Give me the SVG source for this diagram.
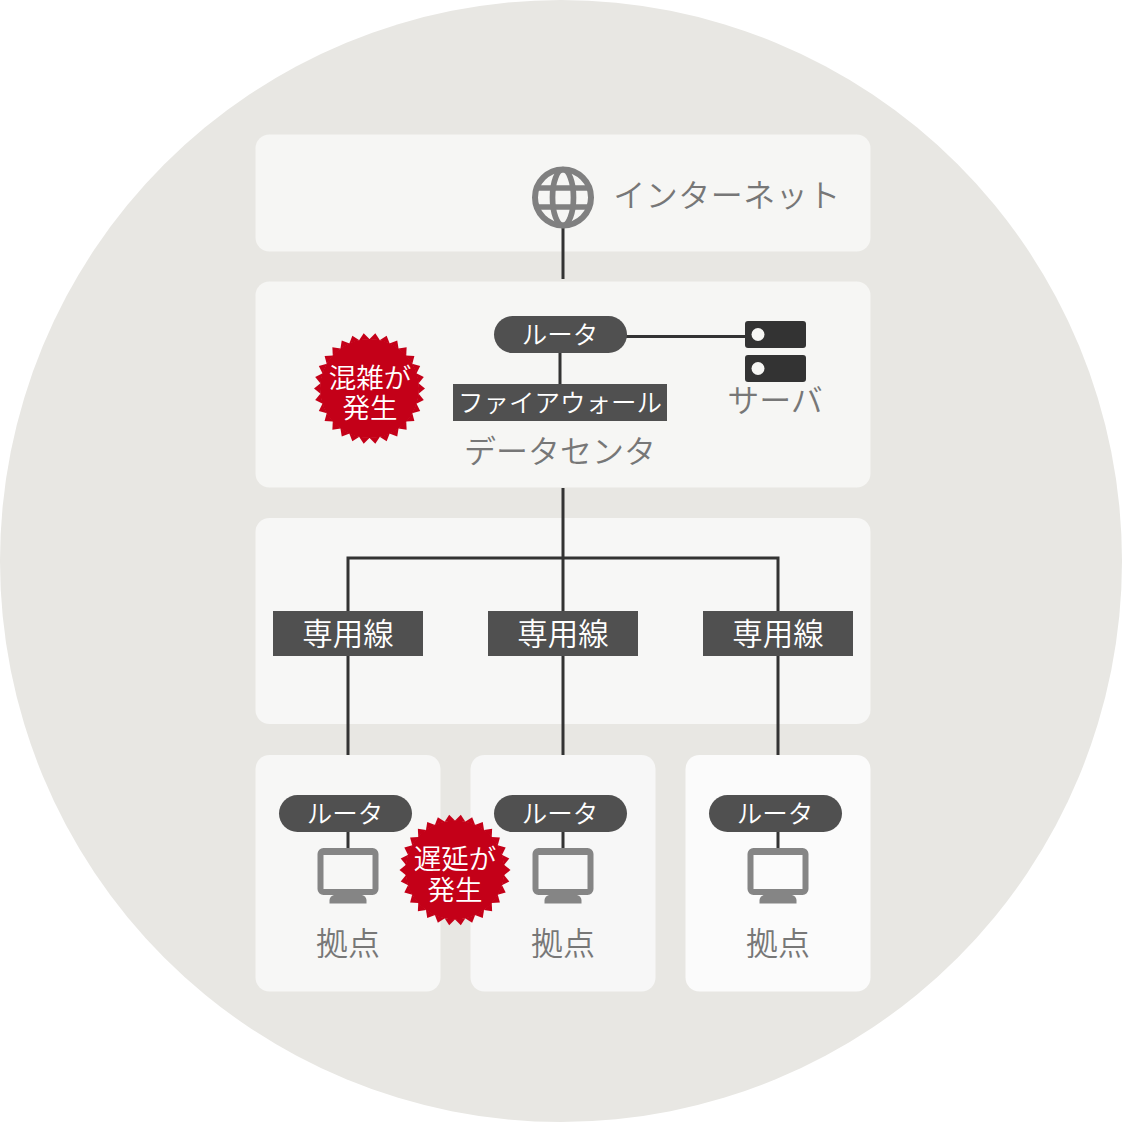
<svg xmlns="http://www.w3.org/2000/svg" width="1122" height="1122" viewBox="0 0 1122 1122">
<style>
text{font-family:"Noto Sans CJK JP","Noto Sans",sans-serif;text-anchor:middle;font-weight:350}
.g{fill:#777;font-size:32px}
.w{fill:#fff;font-size:30.500px}
.b{fill:#fff;font-size:25.500px}
.h{fill:#fff;font-size:27.500px}
.dk{fill:#505050}
.ln{fill:none;stroke:#333;stroke-width:3}
.mon{fill:#858585}
</style>
<defs>
<polygon id="t" points="-5.300,-49 0,-55.500 5.300,-49"/>
<g id="burst" fill="#c40018">
<circle r="49.500"/>
<use href="#t" transform="rotate(6)"/><use href="#t" transform="rotate(18)"/><use href="#t" transform="rotate(30)"/><use href="#t" transform="rotate(42)"/><use href="#t" transform="rotate(54)"/><use href="#t" transform="rotate(66)"/><use href="#t" transform="rotate(78)"/><use href="#t" transform="rotate(90)"/><use href="#t" transform="rotate(102)"/><use href="#t" transform="rotate(114)"/><use href="#t" transform="rotate(126)"/><use href="#t" transform="rotate(138)"/><use href="#t" transform="rotate(150)"/><use href="#t" transform="rotate(162)"/><use href="#t" transform="rotate(174)"/><use href="#t" transform="rotate(186)"/><use href="#t" transform="rotate(198)"/><use href="#t" transform="rotate(210)"/><use href="#t" transform="rotate(222)"/><use href="#t" transform="rotate(234)"/><use href="#t" transform="rotate(246)"/><use href="#t" transform="rotate(258)"/><use href="#t" transform="rotate(270)"/><use href="#t" transform="rotate(282)"/><use href="#t" transform="rotate(294)"/><use href="#t" transform="rotate(306)"/><use href="#t" transform="rotate(318)"/><use href="#t" transform="rotate(330)"/><use href="#t" transform="rotate(342)"/><use href="#t" transform="rotate(354)"/>
</g>
<g id="monitor">
<path class="mon" fill-rule="evenodd" d="M-24.500,-24h49a6,6 0 0 1 6,6v35a6,6 0 0 1-6,6h-49a6,6 0 0 1-6-6v-35a6,6 0 0 1 6-6zM-24.500,-17v34h49v-34z"/>
<path class="mon" d="M-14,23H14Q18,24 18.500,28V31.500H-18.500V28Q-18,24 -14,23z"/>
</g>
</defs>
<circle id="bg" cx="561" cy="561" r="561" fill="#e8e7e3"/>
<g id="panels">
<rect x="255.500" y="134.500" width="615" height="117" rx="14" fill="#f6f6f4"/>
<rect x="255.500" y="281.500" width="615" height="206" rx="14" fill="#f6f6f4"/>
<rect x="255.500" y="518" width="615" height="206" rx="14" fill="#f7f7f6"/>
<rect x="255.500" y="755" width="185" height="236.500" rx="14" fill="#f7f7f6"/>
<rect x="470.500" y="755" width="185" height="236.500" rx="14" fill="#f7f7f7"/>
<rect x="685.500" y="755" width="185" height="236.500" rx="14" fill="#fbfbfb"/>
</g>
<g id="connectors">
<path class="ln" d="M563,225V279"/>
<path class="ln" d="M620,336.500H750"/>
<path class="ln" d="M560,350V385"/>
<path class="ln" d="M563,488V558M348,755V558H778V755M563,558V755"/>
<path class="ln" d="M348,830V850M563,830V850M778,830V850"/>
</g>
<g id="internet">
<circle cx="563" cy="197.500" r="28" fill="none" stroke="#808080" stroke-width="6"/>
<ellipse cx="563" cy="197.500" rx="10.500" ry="28" fill="none" stroke="#808080" stroke-width="5.700"/>
<path d="M538,188H588M538,207H588" fill="none" stroke="#808080" stroke-width="5.700"/>
<text class="g" x="727" y="207" letter-spacing="0.500">インターネット</text>
</g>
<g id="dc-router">
<rect class="dk" x="494" y="316" width="133" height="37" rx="18.500"/>
<text class="b" x="560" y="344">ルータ</text>
</g>
<g id="firewall">
<rect class="dk" x="453" y="384" width="214" height="37"/>
<text class="b" x="560" y="412">ファイアウォール</text>
</g>
<g id="server">
<rect x="745" y="321" width="61" height="27" rx="3" fill="#333"/>
<rect x="745" y="355" width="61" height="27" rx="3" fill="#333"/>
<circle cx="758" cy="334.500" r="6.500" fill="#f6f6f4"/>
<circle cx="758" cy="368.500" r="6.500" fill="#f6f6f4"/>
<text class="g" x="775" y="412">サーバ</text>
</g>
<text id="dc-label" class="g" x="560" y="463" >データセンタ</text>
<g id="burst1">
<use href="#burst" x="369.500" y="388.500"/>
<text class="h" x="370" y="388">混雑が</text>
<text class="h" x="370" y="418">発生</text>
</g>
<g id="line1"><rect class="dk" x="273" y="611" width="150" height="45"/><text class="w" x="348" y="645">専用線</text></g>
<g id="line2"><rect class="dk" x="488" y="611" width="150" height="45"/><text class="w" x="563" y="645">専用線</text></g>
<g id="line3"><rect class="dk" x="703" y="611" width="150" height="45"/><text class="w" x="778" y="645">専用線</text></g>
<g id="site1">
<rect class="dk" x="279" y="795" width="133" height="37" rx="18.500"/>
<text class="b" x="345" y="823">ルータ</text>
<use href="#monitor" x="348" y="872"/>
<text class="g" x="348" y="955">拠点</text>
</g>
<g id="site2">
<rect class="dk" x="494" y="795" width="133" height="37" rx="18.500"/>
<text class="b" x="560" y="823">ルータ</text>
<use href="#monitor" x="563" y="872"/>
<text class="g" x="563" y="955">拠点</text>
</g>
<g id="site3">
<rect class="dk" x="709" y="795" width="133" height="37" rx="18.500"/>
<text class="b" x="775" y="823">ルータ</text>
<use href="#monitor" x="778" y="872"/>
<text class="g" x="778" y="955">拠点</text>
</g>
<g id="burst2">
<use href="#burst" x="455" y="870"/>
<text class="h" x="455" y="869">遅延が</text>
<text class="h" x="455" y="900">発生</text>
</g>
</svg>
